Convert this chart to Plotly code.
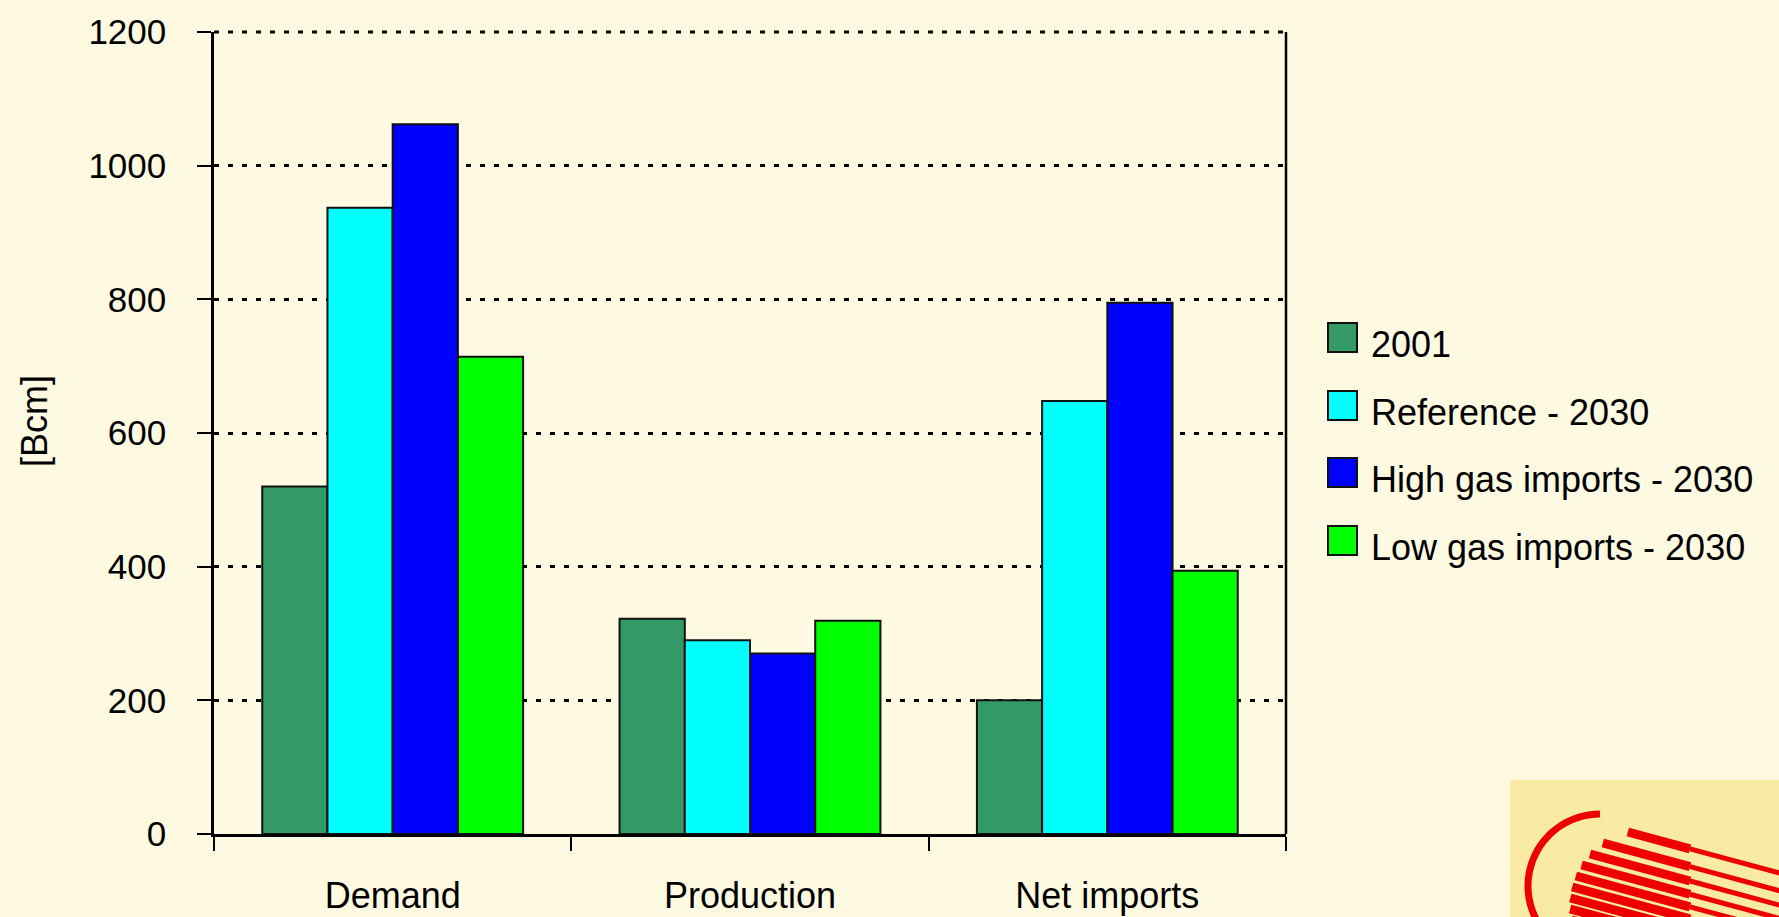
import numpy as np
import plotly.graph_objects as go

categories = ["Demand", "Production", "Net imports"]
series_names = ["2001", "Reference - 2030", "High gas imports - 2030", "Low gas imports - 2030"]
values_2001 = [520, 322, 200]
values_reference = [937, 290, 648]
values_high = [1062, 270, 795]
values_low = [714, 319, 394]
series_colors = ["#339966", "#00FFFF", "#0000FF", "#00FF00"]
y_ticks = [0, 200, 400, 600, 800, 1000, 1200]

all_values = [values_2001, values_reference, values_high, values_low]

W, H = 1779, 917
L, R, T, B = 214, 1286, 32, 834
BG = "#FEF9E1"
FONT = "Liberation Sans, Arial, sans-serif"


def px(x):
    return (x - L) / (R - L)


def py(y):
    return (B - y) / (B - T)


fig = go.Figure()
for name, vals, col in zip(series_names, all_values, series_colors):
    fig.add_trace(go.Bar(
        x=categories, y=vals, name=name,
        marker=dict(color=col, line=dict(color="#111111", width=2)),
        showlegend=False,
    ))

shapes = []
annotations = []

# right border of plot area
shapes.append(dict(type="line", xref="paper", yref="paper", x0=1, x1=1, y0=0, y1=1,
                   line=dict(color="black", width=2.5), layer="above"))
# top dotted gridline (at the 1200 tick, which is the top of the range)
shapes.append(dict(type="line", xref="paper", yref="paper", x0=0, x1=1, y0=1, y1=1,
                   line=dict(color="black", width=3, dash="5px,9px"), layer="below"))

# manual legend
sw_tops = [323, 391, 458, 526]
for name, col, top in zip(series_names, series_colors, sw_tops):
    shapes.append(dict(type="rect", xref="paper", yref="paper",
                       x0=px(1328), x1=px(1357), y0=py(top), y1=py(top + 29),
                       fillcolor=col, line=dict(color="#111111", width=2)))
    annotations.append(dict(text=name, xref="paper", yref="paper",
                            x=px(1369), y=py(top + 14.5 + 7), xanchor="left", yanchor="middle",
                            showarrow=False, font=dict(size=36, color="black", family=FONT)))

# y axis title
annotations.append(dict(text="[Bcm]", xref="paper", yref="paper", x=px(34), y=py(421),
                        textangle=-90, xanchor="center", yanchor="middle", showarrow=False,
                        font=dict(size=36, color="black", family=FONT)))

# logo decoration (bottom right)
shapes.append(dict(type="rect", xref="paper", yref="paper", x0=px(1510), x1=px(1790),
                   y0=py(780), y1=py(930), fillcolor="#FAEBA4", line=dict(width=0), layer="below"))
# arc
cx, cy, r = 1600, 886, 72
ang = np.linspace(np.pi * 0.5, np.pi * 1.15, 30)
pts = [(cx + r * np.cos(a), cy - r * np.sin(a)) for a in ang]
path = "M " + " L ".join(f"{px(x):.5f},{py(y):.5f}" for x, y in pts)
shapes.append(dict(type="path", xref="paper", yref="paper", path=path,
                   line=dict(color="#EE0000", width=7)))
# stripes
scx, scy, sr = 1645, 905, 75
slope = 0.27
for i in range(9):
    y0 = 832 + 11 * i
    dy = y0 - scy
    x0 = scx - np.sqrt(max(sr * sr - dy * dy, 0))
    xm = 1690
    ym = y0 + slope * (xm - x0)
    x1 = 1800
    y1 = y0 + slope * (x1 - x0)
    shapes.append(dict(type="line", xref="paper", yref="paper", x0=px(x0), y0=py(y0),
                       x1=px(xm), y1=py(ym), line=dict(color="#EE0000", width=9)))
    shapes.append(dict(type="line", xref="paper", yref="paper", x0=px(xm), y0=py(ym),
                       x1=px(x1), y1=py(y1), line=dict(color="#EE0000", width=5)))

fig.update_layout(
    width=W, height=H,
    margin=dict(l=L, r=W - R, t=T, b=H - B, pad=0, autoexpand=False),
    paper_bgcolor=BG, plot_bgcolor=BG,
    barmode="group", bargap=0.27, bargroupgap=0,
    font=dict(family=FONT, size=35, color="black"),
    shapes=shapes, annotations=annotations,
    showlegend=False,
)
fig.update_xaxes(
    showline=True, linecolor="black", linewidth=2.5,
    ticks="outside", ticklen=14, tickwidth=2, tickcolor="black",
    tickson="boundaries", showgrid=False, automargin=False,
    tickfont=dict(size=36), ticklabelstandoff=28,
)
fig.update_yaxes(
    range=[0, 1200], tickvals=y_ticks,
    showline=True, linecolor="black", linewidth=2.5,
    ticks="outside", ticklen=14, tickwidth=2, tickcolor="black",
    showgrid=True, gridcolor="black", gridwidth=3, griddash="5px,9px",
    zeroline=False, automargin=False, tickfont=dict(size=35), ticklabelstandoff=24,
)

fig.write_html("out.html")
